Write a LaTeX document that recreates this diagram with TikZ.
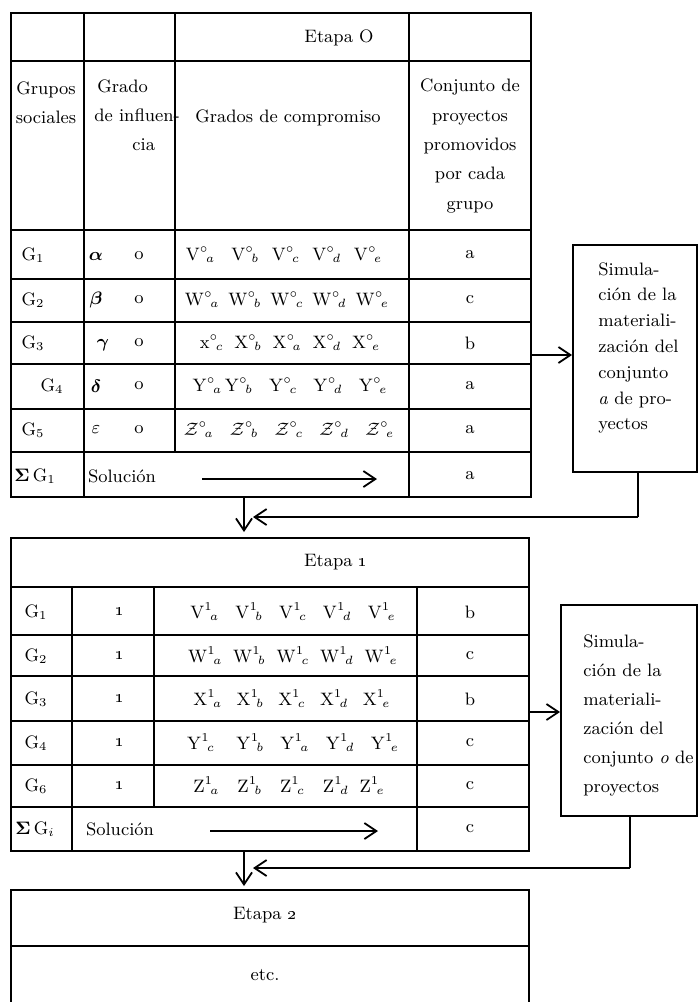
\documentclass[tikz,border=0pt]{standalone}
\usepackage{amsmath}
\usetikzlibrary{arrows.meta}
\newcommand{\Tm}[3]{\mathrm{#1}^{#2}{}_{\!#3}}
\newcommand{\Tc}[3]{\mathcal{#1}^{#2}{}_{\!#3}}
\tikzset{
  px/.style={x=0.5pt,y=-0.5pt},
  grid/.style={line width=0.9pt, line cap=rect},
  arr/.style={line width=0.9pt, -{Straight Barb[length=6pt,width=8pt,line width=0.9pt]}},
  txt/.style={inner sep=0pt, font=\fontsize{9}{11}\selectfont},
  head/.style={txt, align=center, font=\fontsize{9}{14.7}\selectfont},
  simtext/.style={txt, align=left, anchor=north west},
  simbox/.style={draw, line width=0.9pt, inner sep=0pt},
}
\begin{document}
\begin{tikzpicture}[px]
\useasboundingbox (0,0) rectangle (698,1002);
% ---------------- Etapa 0 table ----------------
\draw[grid] (11,13) rectangle (531,497);
\foreach \y in {61,230,279,322,364,409,452} \draw[grid] (11,\y) -- (531,\y);
\draw[grid] (84,13) -- (84,497);
\draw[grid] (175,13) -- (175,452);
\draw[grid] (409,13) -- (409,497);
\node[txt] (e0) at (339,38) {Etapa O};
\node[head] (h0a) at (46,103) {Grupos\\sociales};
\node[head, align=left, anchor=north west] (h0b) at (94,79) {\hspace*{1.5pt}Grado\\de influen-\\\hspace*{19pt}cia};
\node[txt] (h0c) at (288,118) {Grados de compromiso};
\node[head] (h0d) at (470,146) {Conjunto de\\proyectos\\promovidos\\por cada\\grupo};
% rows
\node[txt] (g01) at (33,255) {G$_1$};
\node[txt] (g02) at (33,300) {G$_2$};
\node[txt] (g03) at (33,343) {G$_3$};
\node[txt] (g04) at (52,386) {G$_4$};
\node[txt] (g05) at (33,430) {G$_5$};
\node[txt] (g0s) at (35,476) {$\boldsymbol{\Sigma}$\,G$_1$};
\node[txt] (i01) at (96,256) {$\boldsymbol{\alpha}$};
\node[txt] (i02) at (96,300) {$\boldsymbol{\beta}$};
\node[txt] (i03) at (103,345) {$\boldsymbol{\gamma}$};
\node[txt] (i04) at (96,386) {$\boldsymbol{\delta}$};
\node[txt] (i05) at (96,430) {$\varepsilon$};
\foreach \y [count=\k] in {256,300,343,386,430} \node[txt] (o0\k) at (139,\y) {o};
\node[txt] (c01) at (284,255) {$\Tm{V}{\circ}{a}\hspace{0.9em}\Tm{V}{\circ}{b}\hspace{0.7em}\Tm{V}{\circ}{c}\hspace{0.7em}\Tm{V}{\circ}{d}\hspace{0.7em}\Tm{V}{\circ}{e}$};
\node[txt] (c02) at (287,300) {$\Tm{W}{\circ}{a}\hspace{0.5em}\Tm{W}{\circ}{b}\hspace{0.5em}\Tm{W}{\circ}{c}\hspace{0.5em}\Tm{W}{\circ}{d}\hspace{0.5em}\Tm{W}{\circ}{e}$};
\node[txt] (c03) at (290,343) {$\Tm{x}{\circ}{c}\hspace{0.6em}\Tm{X}{\circ}{b}\hspace{0.6em}\Tm{X}{\circ}{a}\hspace{0.6em}\Tm{X}{\circ}{d}\hspace{0.6em}\Tm{X}{\circ}{e}$};
\node[txt] (c04) at (290,386) {$\Tm{Y}{\circ}{a}\hspace{0.15em}\Tm{Y}{\circ}{b}\hspace{0.9em}\Tm{Y}{\circ}{c}\hspace{0.9em}\Tm{Y}{\circ}{d}\hspace{0.9em}\Tm{Y}{\circ}{e}$};
\node[txt] (c05) at (289,430) {$\Tc{Z}{\circ}{a}\hspace{0.9em}\Tc{Z}{\circ}{b}\hspace{0.9em}\Tc{Z}{\circ}{c}\hspace{0.9em}\Tc{Z}{\circ}{d}\hspace{0.9em}\Tc{Z}{\circ}{e}$};
\foreach \y/\t [count=\k] in {255/a,300/c,343/b,386/a,430/a,476/a} \node[txt] (p0\k) at (470,\y) {\t};
\node[txt] (sol0) at (122,476) {Solución};
\coordinate (s0a) at (202,479);
\coordinate (s0b) at (377,479);
\draw[arr] (s0a) -- (s0b);
% ---------------- Simulation box 1 ----------------
\node[simbox, minimum width=62pt, minimum height=113.5pt] (box1) at (635,358.5) {};
\node[simtext, font=\fontsize{9}{12.9}\selectfont] (sim1) at (598,262) {Simula-\\ción de la\\materiali-\\zación del\\conjunto\\\textit{a} de pro-\\yectos};
\coordinate (t0r) at (531,355);
\draw[arr] (t0r) -- (box1.west |- t0r);
\coordinate (r1a) at (638,517);
\coordinate (r1b) at (253,517);
\draw[line width=0.9pt] (box1.south -| r1a) -- (r1a);
\draw[arr] (r1a) -- (r1b);
\coordinate (d1a) at (244,497);
\coordinate (d1b) at (244,538);
\draw[arr, shorten >=3pt] (d1a) -- (d1b);
% ---------------- Etapa 1 table ----------------
\draw[grid] (11,538) rectangle (529,851);
\foreach \y in {587,635,676,721,765,807} \draw[grid] (11,\y) -- (529,\y);
\draw[grid] (72,587) -- (72,851);
\draw[grid] (154,587) -- (154,807);
\draw[grid] (417,587) -- (417,851);
\node[txt] (e1) at (336,562) {Etapa \oldstylenums{1}};
\node[txt] (g11) at (36,612) {G$_1$};
\node[txt] (g12) at (36,656) {G$_2$};
\node[txt] (g13) at (36,699) {G$_3$};
\node[txt] (g14) at (36,743) {G$_4$};
\node[txt] (g15) at (36,786) {G$_6$};
\node[txt] (g1s) at (35,829) {$\boldsymbol{\Sigma}$\,G$_i$};
\foreach \y [count=\k] in {612,656,699,743,786} \node[txt] (o1\k) at (120,\y) {\oldstylenums{1}};
\node[txt] (c11) at (293,612) {$\Tm{V}{1}{a}\hspace{0.9em}\Tm{V}{1}{b}\hspace{0.9em}\Tm{V}{1}{c}\hspace{0.9em}\Tm{V}{1}{d}\hspace{0.9em}\Tm{V}{1}{e}$};
\node[txt] (c12) at (293,656) {$\Tm{W}{1}{a}\hspace{0.6em}\Tm{W}{1}{b}\hspace{0.6em}\Tm{W}{1}{c}\hspace{0.6em}\Tm{W}{1}{d}\hspace{0.6em}\Tm{W}{1}{e}$};
\node[txt] (c13) at (292,699) {$\Tm{X}{1}{a}\hspace{0.8em}\Tm{X}{1}{b}\hspace{0.8em}\Tm{X}{1}{c}\hspace{0.8em}\Tm{X}{1}{d}\hspace{0.8em}\Tm{X}{1}{e}$};
\node[txt] (c14) at (293,743) {$\Tm{Y}{1}{c}\hspace{1.2em}\Tm{Y}{1}{b}\hspace{0.9em}\Tm{Y}{1}{a}\hspace{0.9em}\Tm{Y}{1}{d}\hspace{0.9em}\Tm{Y}{1}{e}$};
\node[txt] (c15) at (289,786) {$\Tm{Z}{1}{a}\hspace{1em}\Tm{Z}{1}{b}\hspace{1em}\Tm{Z}{1}{c}\hspace{1em}\Tm{Z}{1}{d}\hspace{0.6em}\Tm{Z}{1}{e}$};
\foreach \y/\t [count=\k] in {612/b,656/c,699/b,743/c,786/c,829/c} \node[txt] (p1\k) at (470,\y) {\t};
\node[txt] (sol1) at (120,829) {Solución};
\coordinate (s1a) at (210,831);
\coordinate (s1b) at (378,831);
\draw[arr] (s1a) -- (s1b);
% ---------------- Simulation box 2 ----------------
\node[simbox, minimum width=68pt, minimum height=105.5pt] (box2) at (629,710.5) {};
\node[simtext, font=\fontsize{9}{14.5}\selectfont] (sim2) at (583,634) {Simula-\\ción de la\\materiali-\\zación del\\conjunto \textit{o} de\\proyectos};
\coordinate (t1r) at (529,712);
\draw[arr] (t1r) -- (box2.west |- t1r);
\coordinate (r2a) at (630,868);
\coordinate (r2b) at (253,868);
\draw[line width=0.9pt] (box2.south -| r2a) -- (r2a);
\draw[arr] (r2a) -- (r2b);
\coordinate (d2a) at (244,851);
\coordinate (d2b) at (244,890);
\draw[arr, shorten >=2pt] (d2a) -- (d2b);
% ---------------- Etapa 2 ----------------
\draw[grid] (11,1002) -- (11,890) -- (529,890) -- (529,1002);
\draw[grid] (11,946) -- (529,946);
\node[txt] (e2) at (265,915) {Etapa \oldstylenums{2}};
\node[txt] (etc) at (265,975) {etc.};
\end{tikzpicture}
\end{document}
